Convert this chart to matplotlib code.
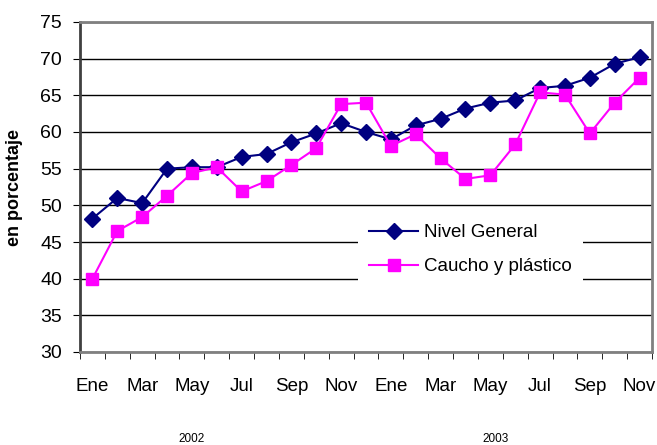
import numpy as np
import matplotlib.pyplot as plt

plt.rcParams['font.family'] = ['Liberation Sans', 'DejaVu Sans']

meses = ['Ene', 'Feb', 'Mar', 'Abr', 'May', 'Jun', 'Jul', 'Ago', 'Sep', 'Oct', 'Nov', 'Dic',
         'Ene', 'Feb', 'Mar', 'Abr', 'May', 'Jun', 'Jul', 'Ago', 'Sep', 'Oct', 'Nov']
anios = ['2002', '2003']
nivel_general = [48.2, 51.0, 50.3, 55.0, 55.2, 55.2, 56.6, 57.0, 58.6, 59.8, 61.2, 60.0,
                 59.0, 60.9, 61.8, 63.2, 64.0, 64.3, 66.0, 66.3, 67.4, 69.3, 70.2]
caucho_plastico = [40.0, 46.5, 48.4, 51.3, 54.4, 55.2, 51.9, 53.3, 55.5, 57.8, 63.8, 64.0,
                   58.1, 59.7, 56.4, 53.6, 54.1, 58.3, 65.4, 65.1, 59.8, 64.0, 67.4]

x = np.arange(len(meses))

fig = plt.figure(figsize=(6.57, 4.45), dpi=100)
ax = fig.add_axes([80/657, 1 - 352/445, 572/657, 330/445])

ax.plot(x, nivel_general, '-D', color='#000080', lw=1.5, ms=8, label='Nivel General', zorder=3)
ax.plot(x, caucho_plastico, '-s', color='#FF00FF', lw=1.5, ms=9, label='Caucho y plástico', zorder=3)

ax.set_xlim(-0.5, len(meses) - 0.5)
ax.set_ylim(30, 75)
ax.set_yticks(np.arange(30, 76, 5))
ax.yaxis.grid(True, color='black', lw=1)
ax.set_axisbelow(True)

ax.set_xticks(x[::2])
ax.set_xticklabels(meses[::2])
ax.set_xticks(np.arange(-0.5, len(meses), 1), minor=True)
ax.tick_params(axis='x', which='major', length=0, pad=19, labelsize=13.5)
ax.tick_params(axis='x', which='minor', length=5, direction='out')
ax.tick_params(axis='y', length=5, pad=8, labelsize=14)

for s in ['top', 'right', 'bottom']:
    ax.spines[s].set_color('#808080')
    ax.spines[s].set_linewidth(2)
ax.spines['left'].set_color('#404040')
ax.spines['left'].set_linewidth(2)

ax.set_ylabel('en porcentaje', fontsize=13, fontweight='bold', labelpad=12)

for i, a in enumerate(anios):
    ax.text(4.0 + i * 12.2, 18.2, a, ha='center', va='center', fontsize=8.5)

leg = ax.legend(loc='lower left', bbox_to_anchor=(0.47, 0.17), frameon=True, fontsize=13.5,
                handlelength=2.6, handletextpad=0.3, borderpad=0.6, labelspacing=0.9)
leg.get_frame().set_edgecolor('none')
leg.get_frame().set_facecolor('white')
leg.get_frame().set_alpha(1)

fig.savefig('out.png', dpi=100)
